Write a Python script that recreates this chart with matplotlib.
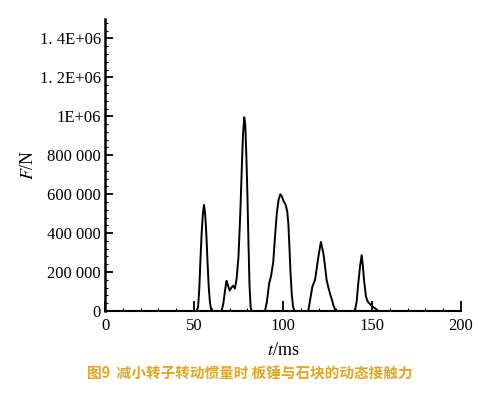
import numpy as np
import matplotlib.pyplot as plt
from matplotlib.ticker import MultipleLocator, AutoMinorLocator

plt.rcParams['font.family'] = ['Liberation Serif', 'DejaVu Serif']
plt.rcParams['mathtext.fontset'] = 'stix'

# contact force curve (t in ms, F in N)
t = [0, 49.0,
     51.5, 52.3, 53.0, 53.6, 54.3, 55.0, 55.6, 56.0, 56.4, 57.0, 57.6, 58.3, 59.0, 59.8,
     65.5, 66.5, 67.5, 68.3, 69.0, 70.0, 71.0, 72.0, 73.0, 74.0, 75.0, 76.0, 76.8, 77.5,
     78.2, 78.8, 79.4, 80.0, 80.6, 81.2, 81.8, 82.3,
     89.9, 91.0, 92.2, 93.3, 94.5, 95.5, 96.5, 97.5, 98.5, 99.3, 100.3, 101.5, 102.4,
     103.0, 103.6, 104.2, 104.9, 105.6, 106.4,
     114.2, 115.3, 116.5, 118.0, 119.9, 121.3, 122.7, 123.6, 124.5, 125.5, 126.4, 127.4,
     128.3, 129.6,
     140.4, 141.4, 142.3, 143.3, 144.2, 144.9, 145.5, 146.6, 147.5, 148.5, 150.4, 152.6,
     153.5, 200]
F = [0, 0,
     0, 20e3, 120e3, 260e3, 400e3, 500e3, 545e3, 520e3, 480e3, 380e3, 250e3, 120e3, 40e3, 0,
     0, 40e3, 110e3, 155e3, 135e3, 105e3, 120e3, 130e3, 115e3, 170e3, 280e3, 500e3, 720e3, 900e3,
     995e3, 960e3, 800e3, 600e3, 350e3, 130e3, 20e3, 0,
     0, 50e3, 140e3, 180e3, 250e3, 380e3, 500e3, 570e3, 600e3, 590e3, 565e3, 545e3, 510e3,
     450e3, 330e3, 200e3, 90e3, 25e3, 0,
     0, 60e3, 125e3, 160e3, 280e3, 355e3, 296e3, 230e3, 160e3, 120e3, 90e3, 60e3,
     30e3, 0,
     0, 50e3, 143e3, 230e3, 287e3, 230e3, 160e3, 75e3, 50e3, 39e3, 22e3, 8e3,
     0, 0]

yticks = [0, 200000, 400000, 600000, 800000, 1000000, 1200000, 1400000]
ylabels = ['0', '200 000', '400 000', '600 000', '800 000', '1E+06', '1. 2E+06', '1. 4E+06']
xticks = [0, 50, 100, 150, 200]

fig = plt.figure(figsize=(5, 3.95), dpi=100)
ax = fig.add_axes([0.21, 0.2127, 0.712, 0.7393])
ax.plot(t, F, color='black', lw=1.4)

ax.set_xlim(0, 200)
ax.set_ylim(0, 1.5e6)
ax.set_xticks(xticks)
ax.set_xticklabels([str(x) for x in xticks], fontsize=12)
ax.set_yticks(yticks)
ax.set_yticklabels(ylabels, fontsize=12)
ax.xaxis.set_minor_locator(MultipleLocator(10))
ax.yaxis.set_minor_locator(AutoMinorLocator(5))
ax.tick_params(which='major', direction='in', length=6, width=1.3, pad=3)
ax.tick_params(which='minor', direction='in', length=2, width=0.8)
ax.tick_params(axis='x', which='major', length=7, pad=5)

for s in ['top', 'right']:
    ax.spines[s].set_visible(False)
ax.spines['left'].set_linewidth(1.8)
ax.spines['bottom'].set_linewidth(1.5)

ax.set_xlabel('$t$/ms', fontsize=13, labelpad=6)
ax.set_ylabel('$F$/N', fontsize=13, labelpad=2)

fig.text(0.5, 0.055, '图9  减小转子转动惯量时 板锤与石块的动态接触力',
         ha='center', va='center', fontsize=10.5, fontweight='bold',
         color='#E3A620', family=['Noto Sans CJK SC', 'DejaVu Sans'])

fig.savefig('out.png', dpi=100)
